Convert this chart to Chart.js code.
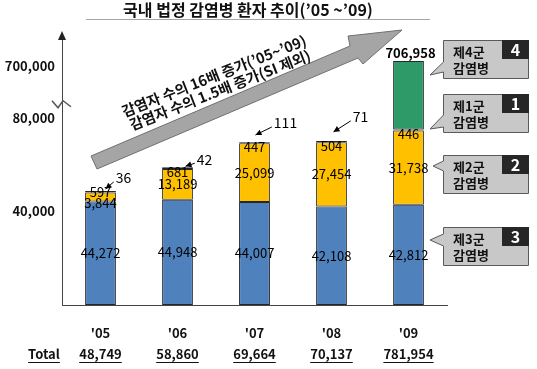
<!DOCTYPE html>
<html><head><meta charset="utf-8">
<script src="https://cdn.jsdelivr.net/npm/chart.js@4.4.0/dist/chart.umd.min.js"></script>
<style>html,body{margin:0;padding:0;background:#fff}#wrap{width:537px;height:369px}</style>
</head><body><div id="wrap"><canvas id="c" width="537" height="369"></canvas></div>
<script>
// ---- data ----
const years = ["'05", "'06", "'07", "'08", "'09"];
const group3 = [44272, 44948, 44007, 42108, 42812];   // 제3군 (blue, bottom)
const group2 = [3844, 13189, 25099, 27454, 31738];    // 제2군 (yellow)
const group1 = [597, 681, 447, 504, 446];             // 제1군 (yellow, thin)
const group4 = [36, 42, 111, 71, 706958];             // 제4군 (green, top)
const totals = [48749, 58860, 69664, 70137, 781954];
const yTicks = [40000, 80000, 700000];
const groupNames = ['제3군', '제2군', '제1군', '제4군'];
const diseaseWord = '감염병';
const titleText = "국내 법정 감염병 환자 추이(’05 ~’09)";
const arrowLines = ["감염자 수의 16배 증가(’05~’09)", "감염자 수의 1.5배 증가(SI 제외)"];
const totalWord = 'Total';

// ---- styles / layout ----
const FONT = '"Noto Sans CJK KR", "Noto Sans", sans-serif';
const COL = { blue: '#4F81BD', yellow: '#FFC000', green: '#2E9A68', edge: '#262626', text: '#111' };
const smallLabelOffsets = [[5, -2, 23, -13], [8, -1, 27, -8], [1, -7, 31, -19], [2, -9, 29, -24]];
const calloutBoxes = [
  { ds: 3, n: '4', y0: 40, pA: 62, pB: 72, tip: [430, 75] },
  { ds: 2, n: '1', y0: 94, pA: 115, pB: 127, tip: [430, 129] },
  { ds: 1, n: '2', y0: 155, pA: 161, pB: 171, tip: [433, 166] },
  { ds: 0, n: '3', y0: 227, pA: 234, pB: 246, tip: [430, 240] }
];
const fmt = v => Number(v).toLocaleString('en-US');

// ---- broken (compressed above break) linear scale ----
class BrokenScale extends Chart.LinearScale {
  tf(v) { const b = this.options.breakAt, k = this.options.compress; return v <= b ? v : b + (v - b) * k; }
  itf(t) { const b = this.options.breakAt, k = this.options.compress; return t <= b ? t : b + (t - b) / k; }
  getPixelForValue(v) {
    const t0 = this.tf(this.min), t1 = this.tf(this.max);
    return this.bottom - (this.tf(v) - t0) / (t1 - t0) * (this.bottom - this.top);
  }
  getValueForPixel(p) {
    const t0 = this.tf(this.min), t1 = this.tf(this.max);
    return this.itf(t0 + (this.bottom - p) / (this.bottom - this.top) * (t1 - t0));
  }
}
BrokenScale.id = 'broken';
BrokenScale.defaults = Chart.LinearScale.defaults;
Chart.register(BrokenScale);

function arrowTo(ctx, x0, y0, x1, y1, head) {
  ctx.beginPath(); ctx.moveTo(x0, y0); ctx.lineTo(x1, y1); ctx.stroke();
  const a = Math.atan2(y1 - y0, x1 - x0);
  ctx.beginPath();
  ctx.moveTo(x1, y1);
  ctx.lineTo(x1 - head * Math.cos(a) + head * 0.5 * Math.sin(a), y1 - head * Math.sin(a) - head * 0.5 * Math.cos(a));
  ctx.lineTo(x1 - head * Math.cos(a) - head * 0.5 * Math.sin(a), y1 - head * Math.sin(a) + head * 0.5 * Math.cos(a));
  ctx.closePath(); ctx.fill();
}

const deco = {
  id: 'deco',
  afterDraw(chart) {
    const ctx = chart.ctx, ca = chart.chartArea, ys = chart.scales.y, xs = chart.scales.x;
    ctx.save();
    ctx.textAlign = 'center'; ctx.textBaseline = 'middle';

    // title
    ctx.fillStyle = COL.text; ctx.font = 'bold 16px ' + FONT;
    ctx.fillText(titleText, 248, 10);
    ctx.strokeStyle = '#A6A6A6'; ctx.lineWidth = 1;
    ctx.beginPath(); ctx.moveTo(86, 19.5); ctx.lineTo(430, 19.5); ctx.stroke();

    // y-axis arrow head + break marker
    ctx.fillStyle = '#222';
    ctx.beginPath(); ctx.moveTo(ca.left, 31); ctx.lineTo(ca.left - 4, 40); ctx.lineTo(ca.left + 4, 40); ctx.closePath(); ctx.fill();
    const by = ys.getPixelForValue(ys.options.breakAt);
    ctx.strokeStyle = '#555'; ctx.lineWidth = 1.5;
    ctx.beginPath();
    ctx.moveTo(ca.left - 10, by - 3); ctx.lineTo(ca.left - 4, by + 4); ctx.lineTo(ca.left + 1, by - 3); ctx.lineTo(ca.left + 9, by + 3);
    ctx.stroke();

    // bar value labels
    const m = [0, 1, 2, 3].map(d => chart.getDatasetMeta(d));
    ctx.fillStyle = '#000';
    years.forEach((_, i) => {
      const b3 = m[0].data[i], b2 = m[1].data[i], b1 = m[2].data[i], b4 = m[3].data[i];
      ctx.font = '13px ' + FONT;
      ctx.fillText(fmt(group3[i]), b3.x, (b3.y + b3.base) / 2);
      const h2 = b2.base - b2.y;
      let y1, y2;
      if (h2 < 24) { y1 = b1.y + 1; y2 = y1 + 11; } else { y1 = b1.y + 5; y2 = (b2.y + b2.base) / 2; }
      ctx.fillText(fmt(group2[i]), b2.x, y2);
      ctx.fillText(fmt(group1[i]), b1.x, y1);
      // group 4
      if (b4.base - b4.y < 10) {
        const o = smallLabelOffsets[i];
        const px = b4.x + o[0], py = b4.y + o[1], tx = b4.x + o[2], ty = b4.y + o[3];
        ctx.font = '14px ' + FONT;
        const w = ctx.measureText(fmt(group4[i])).width;
        ctx.fillText(fmt(group4[i]), tx, ty);
        ctx.strokeStyle = '#000'; ctx.lineWidth = 1;
        arrowTo(ctx, tx - w / 2 - 2, ty + 4, px, py, 6);
      } else {
        ctx.font = 'bold 13px ' + FONT;
        ctx.fillText(fmt(group4[i]), b4.x + 2, b4.y - 8);
      }
    });

    // big grey trend arrow
    ctx.fillStyle = '#A5A5A5'; ctx.strokeStyle = '#707070'; ctx.lineWidth = 1;
    ctx.beginPath();
    ctx.moveTo(91, 156); ctx.lineTo(350, 46); ctx.lineTo(348, 36); ctx.lineTo(402, 30);
    ctx.lineTo(363, 64); ctx.lineTo(358, 58); ctx.lineTo(97, 169); ctx.closePath();
    ctx.fill(); ctx.stroke();
    ctx.fillStyle = '#111'; ctx.font = 'bold 14.5px ' + FONT;
    [[214, 76], [220, 90]].forEach((p, k) => {
      ctx.save(); ctx.translate(p[0], p[1]); ctx.rotate(-21.5 * Math.PI / 180);
      ctx.fillText(arrowLines[k], 0, 0); ctx.restore();
    });

    // callout legend
    calloutBoxes.forEach(c => {
      const x0 = 443, x1 = 528, y0 = c.y0, y1 = c.y0 + 38;
      ctx.fillStyle = '#C8C8C8'; ctx.strokeStyle = '#5A5A5A'; ctx.lineWidth = 1;
      ctx.beginPath();
      ctx.moveTo(x0 + 0.5, y0 + 0.5); ctx.lineTo(x1 + 0.5, y0 + 0.5); ctx.lineTo(x1 + 0.5, y1 + 0.5); ctx.lineTo(x0 + 0.5, y1 + 0.5);
      ctx.lineTo(x0 + 0.5, c.pB); ctx.lineTo(c.tip[0], c.tip[1]); ctx.lineTo(x0 + 0.5, c.pA); ctx.closePath();
      ctx.fill(); ctx.stroke();
      ctx.fillStyle = '#262626'; ctx.fillRect(x1 - 26, y0, 27, 19);
      ctx.fillStyle = '#fff'; ctx.font = 'bold 16px ' + FONT; ctx.textAlign = 'center';
      ctx.fillText(c.n, x1 - 12.5, y0 + 10);
      ctx.fillStyle = '#111'; ctx.font = 'bold 13px ' + FONT; ctx.textAlign = 'left';
      ctx.fillText(groupNames[c.ds], 453, y0 + 12);
      ctx.fillText(diseaseWord, 453, y0 + 28);
      ctx.textAlign = 'center';
    });

    // totals row
    ctx.fillStyle = '#111'; ctx.strokeStyle = '#111'; ctx.lineWidth = 1;
    ctx.font = 'bold 13px ' + FONT;
    const rowY = 354;
    const drawU = (s, x) => {
      const w = ctx.measureText(s).width;
      ctx.fillText(s, x, rowY);
      ctx.beginPath(); ctx.moveTo(x - w / 2, rowY + 8.5); ctx.lineTo(x + w / 2, rowY + 8.5); ctx.stroke();
    };
    drawU(totalWord, 44);
    totals.forEach((t, i) => drawU(fmt(t), xs.getPixelForValue(i)));
    ctx.restore();
  }
};

new Chart(document.getElementById('c').getContext('2d'), {
  type: 'bar',
  data: {
    labels: years,
    datasets: [
      { label: groupNames[0], data: group3, backgroundColor: COL.blue },
      { label: groupNames[1], data: group2, backgroundColor: COL.yellow },
      { label: groupNames[2], data: group1, backgroundColor: COL.yellow },
      { label: groupNames[3], data: group4, backgroundColor: COL.green }
    ]
  },
  options: {
    responsive: false, animation: false,
    layout: { padding: { top: 36, right: 90, left: 0, bottom: 0 } },
    datasets: { bar: { barPercentage: 0.4, categoryPercentage: 1, borderColor: COL.edge, borderWidth: 1, borderSkipped: false } },
    plugins: { legend: { display: false }, tooltip: { enabled: false }, title: { display: false } },
    scales: {
      x: {
        stacked: true,
        grid: { display: false, drawTicks: false },
        border: { color: '#444', width: 1 },
        ticks: { font: { family: FONT, size: 13, weight: 'bold' }, color: '#111', padding: 20 },
        afterFit(s) { s.height = 64; }
      },
      y: {
        type: 'broken', stacked: true, min: 0, max: 1187000, breakAt: 86000, compress: 0.0263,
        grid: { display: false, drawTicks: false },
        border: { color: '#444', width: 1 },
        ticks: { font: { family: FONT, size: 13, weight: 'bold' }, color: '#111', padding: 7, callback: v => fmt(v) },
        afterBuildTicks(s) { s.ticks = yTicks.map(v => ({ value: v })); },
        afterFit(s) { s.width = 62; }
      }
    }
  },
  plugins: [deco]
});
</script>
</body></html>
